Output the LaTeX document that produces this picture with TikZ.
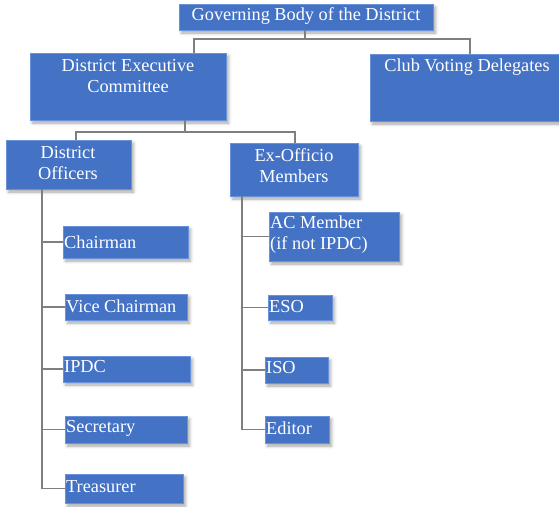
\documentclass[tikz,border=0pt]{standalone}
\usepackage{fontspec}
\setmainfont{Liberation Serif}
\usetikzlibrary{shadows.blur}
\definecolor{boxblue}{HTML}{4472C4}
\definecolor{boxedge}{HTML}{6A92DA}
\definecolor{linegray}{HTML}{7F7F7F}
\begin{document}
\begin{tikzpicture}[x=1pt,y=-1pt,
  box/.style={fill=boxblue, draw=boxedge, line width=0.6pt, anchor=north west,
    inner sep=0pt, outer sep=0pt,
    blur shadow={shadow xshift=2.5pt, shadow yshift=-3pt, shadow blur radius=3pt, shadow opacity=35}},
  lbl/.style={text=white, font=\fontsize{18.3}{21}\selectfont, inner sep=0pt, align=center},
  conn/.style={draw=linegray, line width=1.3pt}]
\useasboundingbox (0,0) rectangle (559,506);

% boxes
\node[box, minimum width=254pt, minimum height=26pt] (gov) at (179,4) {};
\node[box, minimum width=196pt, minimum height=67pt] (dec) at (30,53) {};
\node[box, minimum width=192pt, minimum height=67pt] (club) at (370,54) {};
\node[box, minimum width=125pt, minimum height=49pt] (dof) at (6,140) {};
\node[box, minimum width=128pt, minimum height=53pt] (exo) at (230,143) {};

\node[box, minimum width=125pt, minimum height=32pt] (chair) at (63,226) {};
\node[box, minimum width=122pt, minimum height=26pt] (vice) at (65,294) {};
\node[box, minimum width=127pt, minimum height=26pt] (ipdc) at (63,356) {};
\node[box, minimum width=122pt, minimum height=27pt] (secr) at (65,416) {};
\node[box, minimum width=118pt, minimum height=29pt] (treas) at (65,474) {};

\node[box, minimum width=130pt, minimum height=49pt] (acm) at (269,212) {};
\node[box, minimum width=64pt, minimum height=25pt] (eso) at (268,295) {};
\node[box, minimum width=63pt, minimum height=26pt] (iso) at (265,357) {};
\node[box, minimum width=64pt, minimum height=27pt] (edit) at (265,416) {};

% labels
\node[lbl] (govt) at (306,16) {Governing Body of the District};
\node[lbl] (dect) at (128,76) {District Executive\\Committee};
\node[lbl] (clubt) at (467,67) {Club Voting Delegates};
\node[lbl] (doft) at (68,163) {District\\Officers};
\node[lbl] (exot) at (294,166) {Ex-Officio\\Members};

\node[lbl, anchor=west] (chairt) at (64,242) {Chairman};
\node[lbl, anchor=west] (vicet) at (66,306) {Vice Chairman};
\node[lbl, anchor=west] (ipdct) at (64,367) {IPDC};
\node[lbl, anchor=west] (secrt) at (66,428) {Secretary};
\node[lbl, anchor=west] (treast) at (66,487) {Treasurer};

\node[lbl, anchor=west, align=left] (acmt) at (270,235) {AC Member\\(if not IPDC)};
\node[lbl, anchor=west] (esot) at (269,307) {ESO};
\node[lbl, anchor=west] (isot) at (266,368) {ISO};
\node[lbl, anchor=west] (editt) at (266,428) {Editor};

% connector junctions
\coordinate (gj) at (305,39);
\coordinate (decdrop) at (194,0);
\coordinate (clubdrop) at (470,0);
\coordinate (dj) at (185,132);
\coordinate (dofdrop) at (76,0);
\coordinate (exodrop) at (295,0);
\coordinate (dofspine) at (42,0);
\coordinate (exospine) at (242,0);

% top level
\draw[conn] (gov.south -| gj) -- (gj);
\draw[conn] (gj) -| (dec.north -| decdrop);
\draw[conn] (gj) -| (club.north -| clubdrop);

% executive committee
\draw[conn] (dec.south -| dj) -- (dj);
\draw[conn] (dj) -| (dof.north -| dofdrop);
\draw[conn] (dj) -| (exo.north -| exodrop);

% district officers
\draw[conn] (dof.south -| dofspine) |- (treas.west);
\draw[conn] (dofspine |- chair.west) -- (chair.west);
\draw[conn] (dofspine |- vice.west) -- (vice.west);
\draw[conn] (dofspine |- ipdc.west) -- (ipdc.west);
\draw[conn] (dofspine |- secr.west) -- (secr.west);

% ex-officio members
\draw[conn] (exo.south -| exospine) |- (edit.west);
\draw[conn] (exospine |- acm.west) -- (acm.west);
\draw[conn] (exospine |- eso.west) -- (eso.west);
\draw[conn] (exospine |- iso.west) -- (iso.west);
\end{tikzpicture}
\end{document}
